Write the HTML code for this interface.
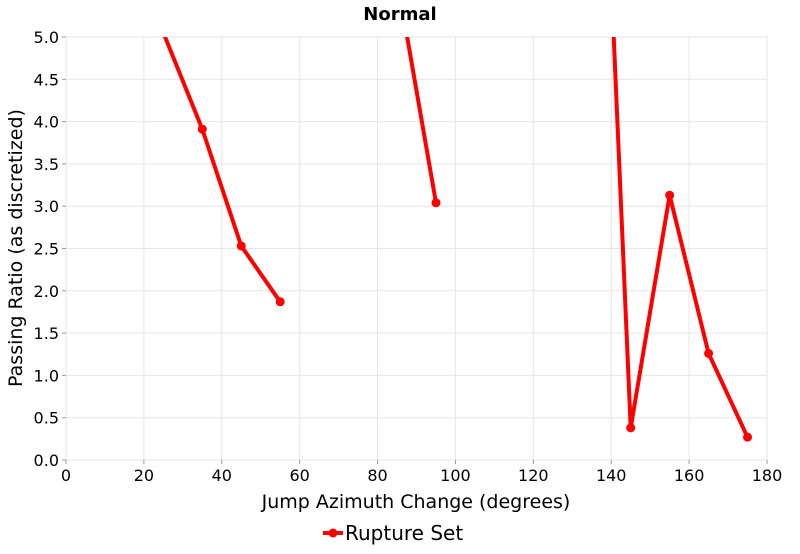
<!DOCTYPE html>
<html><head><meta charset="utf-8"><style>
body{margin:0;background:#fff;font-family:"DejaVu Sans","Liberation Sans",sans-serif}
svg text{font-family:"DejaVu Sans","Liberation Sans",sans-serif}
</style></head><body>
<svg id="c" width="800" height="550" xmlns="http://www.w3.org/2000/svg">
<defs><clipPath id="pc"><rect x="66" y="37" width="701" height="423"/></clipPath></defs>
<text x="400" y="20" text-anchor="middle" font-weight="bold" font-size="18">Normal</text>
<rect x="66" y="37" width="701" height="423" fill="#fff" stroke="#999"/>
<g id="grid"></g><g id="axes"></g><g id="series" clip-path="url(#pc)"></g>
<text x="416" y="508" text-anchor="middle" font-size="19">Jump Azimuth Change (degrees)</text>
<text transform="translate(22,248) rotate(-90)" text-anchor="middle" font-size="19">Passing Ratio (as discretized)</text>
<g>
<line x1="323" y1="533" x2="343" y2="533" stroke="#f00" stroke-width="4"/>
<circle cx="333" cy="533" r="4.5" fill="#f00"/>
<text x="345" y="540" font-size="20">Rupture Set</text></g>
</svg>
<script>
const xs=[25,35,45,55,65,75,85,95,105,115,125,135,145,155,165,175];
const vals=[5.05,3.91,2.53,1.87,null,null,5.69,3.04,null,null,null,10.98,0.38,3.13,1.26,0.27];
const xTicks=[0,20,40,60,80,100,120,140,160,180];
const yTicks=[0,0.5,1,1.5,2,2.5,3,3.5,4,4.5,5];
const NS="http://www.w3.org/2000/svg";
const X=v=>66+v/180*701, Y=v=>460-v/5*423;
function mk(t,a,p){const e=document.createElementNS(NS,t);for(const k in a)e.setAttribute(k,a[k]);p.appendChild(e);return e;}
const grid=document.getElementById('grid'),axes=document.getElementById('axes'),ser=document.getElementById('series');
xTicks.forEach(t=>{
 const l=mk('line',{x1:X(t),x2:X(t),y1:37,y2:460,stroke:'#e6e6e6'},grid);
 
 
 mk('line',{x1:X(t),x2:X(t),y1:460,y2:464,stroke:'#999'},axes);
 const tx=mk('text',{x:X(t),y:481,'text-anchor':'middle','font-size':16},axes);tx.textContent=t;
 
 
});
yTicks.forEach(t=>{
 const l=mk('line',{x1:66,x2:767,y1:Y(t),y2:Y(t),stroke:'#e6e6e6'},grid);
 
 
 mk('line',{x1:62,x2:66,y1:Y(t),y2:Y(t),stroke:'#999'},axes);
 const tx=mk('text',{x:59,y:Y(t)+6,'text-anchor':'end','font-size':16},axes);tx.textContent=t.toFixed(1);
 
 
});
let seg=[];
function flush(){if(seg.length>1){const p=mk('polyline',{points:seg.join(' '),fill:'none',stroke:'#f00','stroke-width':4,'stroke-linejoin':'round'},ser);
 
 }seg=[];}
xs.forEach((x,i)=>{const v=vals[i];if(v==null){flush();return;}seg.push(X(x)+','+Y(v));});flush();
xs.forEach((x,i)=>{const v=vals[i];if(v==null)return;
 const c=mk('circle',{cx:X(x),cy:Y(v),r:4.5,fill:'#f00'},ser);
 
 });
</script>
</body></html>
